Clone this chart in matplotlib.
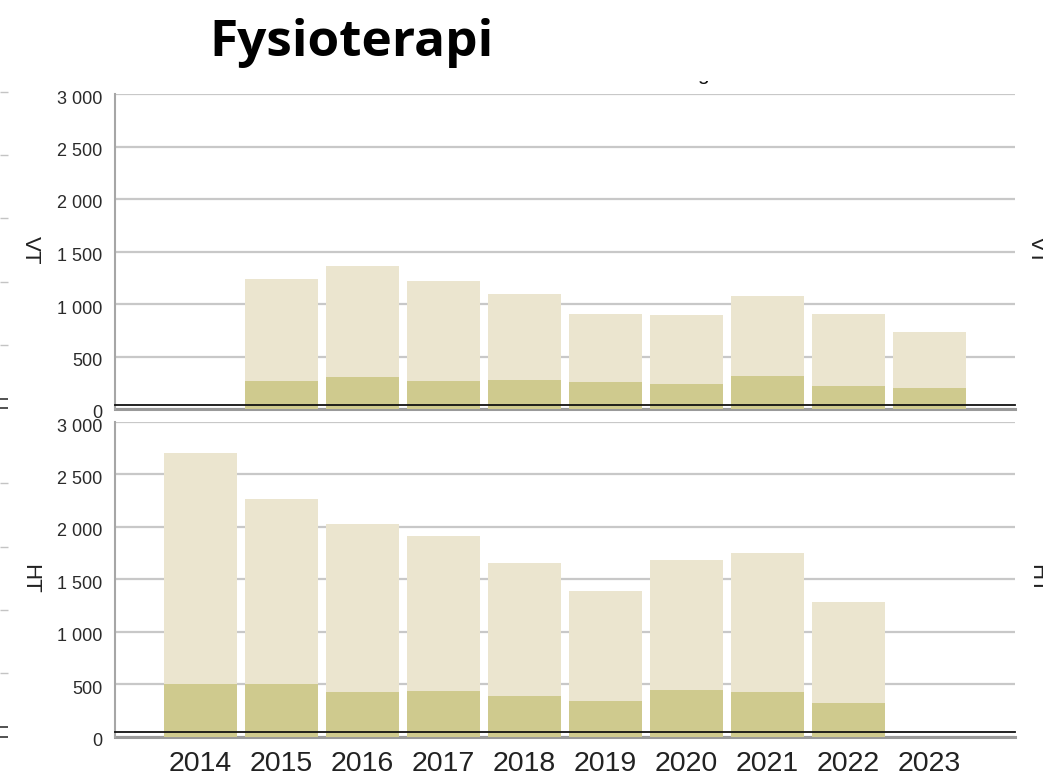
import matplotlib
matplotlib.use("Agg")
import matplotlib.pyplot as plt
import matplotlib.transforms as mtransforms
from matplotlib.ticker import FuncFormatter, FixedLocator
import numpy as np

plt.rcParams["font.family"] = ["Liberation Sans", "DejaVu Sans"]

years = ["2014", "2015", "2016", "2017", "2018", "2019", "2020", "2021", "2022", "2023"]

# VT (top panel): total bar and darker inner part; 2014 has no value
vt_total = [np.nan, 1240, 1366, 1223, 1094, 909, 900, 1075, 909, 732]
vt_part = [np.nan, 270, 304, 268, 278, 259, 240, 316, 221, 202]

# HT (bottom panel); 2023 has no value
ht_total = [2705, 2268, 2030, 1915, 1652, 1385, 1687, 1750, 1280, np.nan]
ht_part = [505, 500, 422, 434, 386, 336, 444, 422, 322, np.nan]

y_ticks = [0, 500, 1000, 1500, 2000, 2500, 3000]

LIGHT = "#ebe5cf"
DARK = "#cfca8e"
GRID = "#c8c8c8"
AXIS = "#a6a6a6"

W, H = 1043, 778
fig = plt.figure(figsize=(W / 100, H / 100), dpi=100)


def px_box(left, top, right, bottom):
    return [left / W, 1 - bottom / H, (right - left) / W, (bottom - top) / H]


def panel(rect, total, part, show_x):
    ax = fig.add_axes(rect)
    x = np.arange(len(years))
    ax.bar(x, total, width=0.9, color=LIGHT, zorder=2)
    ax.bar(x, part, width=0.9, color=DARK, zorder=3)
    ax.set_xlim(-1.05, len(years) - 1 + 1.06)
    ax.set_ylim(0, 3000)
    ax.yaxis.set_major_locator(FixedLocator(y_ticks))
    ax.yaxis.set_major_formatter(FuncFormatter(lambda v, p: f"{v:,.0f}".replace(",", " ")))
    ax.grid(axis="y", color=GRID, lw=1.6, zorder=1)
    ax.set_axisbelow(True)
    for s in ["top", "right", "bottom"]:
        ax.spines[s].set_visible(False)
    ax.spines["left"].set_color(AXIS)
    ax.spines["left"].set_linewidth(1.5)
    ax.tick_params(axis="y", length=0, pad=9, labelsize=13, labelcolor="#2a2a2a")
    # base line: grey at zero, black a few pixels above it
    ax.axhline(0, color="#9a9a9a", lw=2.2, zorder=2.5, clip_on=False)
    up = mtransforms.ScaledTranslation(0, 4.5 / 100, fig.dpi_scale_trans)
    ax.plot([0, 1], [0, 0], color="#111111", lw=1.3, zorder=4, clip_on=False,
            transform=ax.get_yaxis_transform() + up)
    ax.set_xticks(x)
    if show_x:
        ax.set_xticklabels(years, fontsize=20.5, color="#222222")
        ax.tick_params(axis="x", length=0, pad=10)
    else:
        ax.tick_params(axis="x", length=0, labelbottom=False)
    # y labels sit a few pixels below their grid lines
    down = mtransforms.ScaledTranslation(0, -3 / 100, fig.dpi_scale_trans)
    for t in ax.yaxis.get_major_ticks():
        t.label1.set_transform(t.label1.get_transform() + down)
    return ax


ax_top = panel(px_box(115, 94, 1015, 409), vt_total, vt_part, False)
ax_bot = panel(px_box(115, 422, 1015, 736.7), ht_total, ht_part, True)

# side labels (left and cut-off right)
for lab, yc in [("VT", 250), ("HT", 579)]:
    fig.text(30 / W, 1 - yc / H, lab, rotation=270, fontsize=16, color="#222222",
             ha="center", va="center")
    fig.text(1026 / W, 1 - yc / H, lab, rotation=270, fontsize=16, color="#222222",
             ha="left", va="center")

# fragment of neighbouring chart's ticks at the left edge
for top, bot, grey_ticks in [(91.7, 408.2, [1, 2, 3, 4, 5]), (420, 736.7, [1, 2, 3, 4])]:
    g = fig.add_axes(px_box(-60, top, 0, bot))
    g.set_xlim(0, 1)
    g.set_ylim(0, 5)
    for s in g.spines.values():
        s.set_visible(False)
    g.set_xticks([])
    g.yaxis.tick_right()
    g.yaxis.set_major_locator(FixedLocator(grey_ticks))
    g.yaxis.set_minor_locator(FixedLocator([0, 0.15]))
    g.tick_params(axis="y", which="major", direction="out", length=6, width=1,
                  color="#c4c4c4", labelright=False, labelleft=False)
    g.tick_params(axis="y", which="minor", direction="out", length=6, width=1.2,
                  color="#333333", labelright=False, labelleft=False)
    g.patch.set_visible(False)

# descender of a hidden subtitle, only its bottom peeks out
frag = fig.text(703 / W, 1 - 80 / H, "g", fontsize=15, ha="center", va="baseline",
                color="#111111")
frag.set_clip_box(mtransforms.Bbox([[690, H - 89], [720, H - 81]]))
frag.set_clip_on(True)

fig.text(352 / W, 1 - 43 / H, "Fysioterapi", fontsize=37, fontweight="bold",
         family=["Open Sans", "DejaVu Sans"], ha="center", va="center")

fig.savefig("out.png", dpi=100)
